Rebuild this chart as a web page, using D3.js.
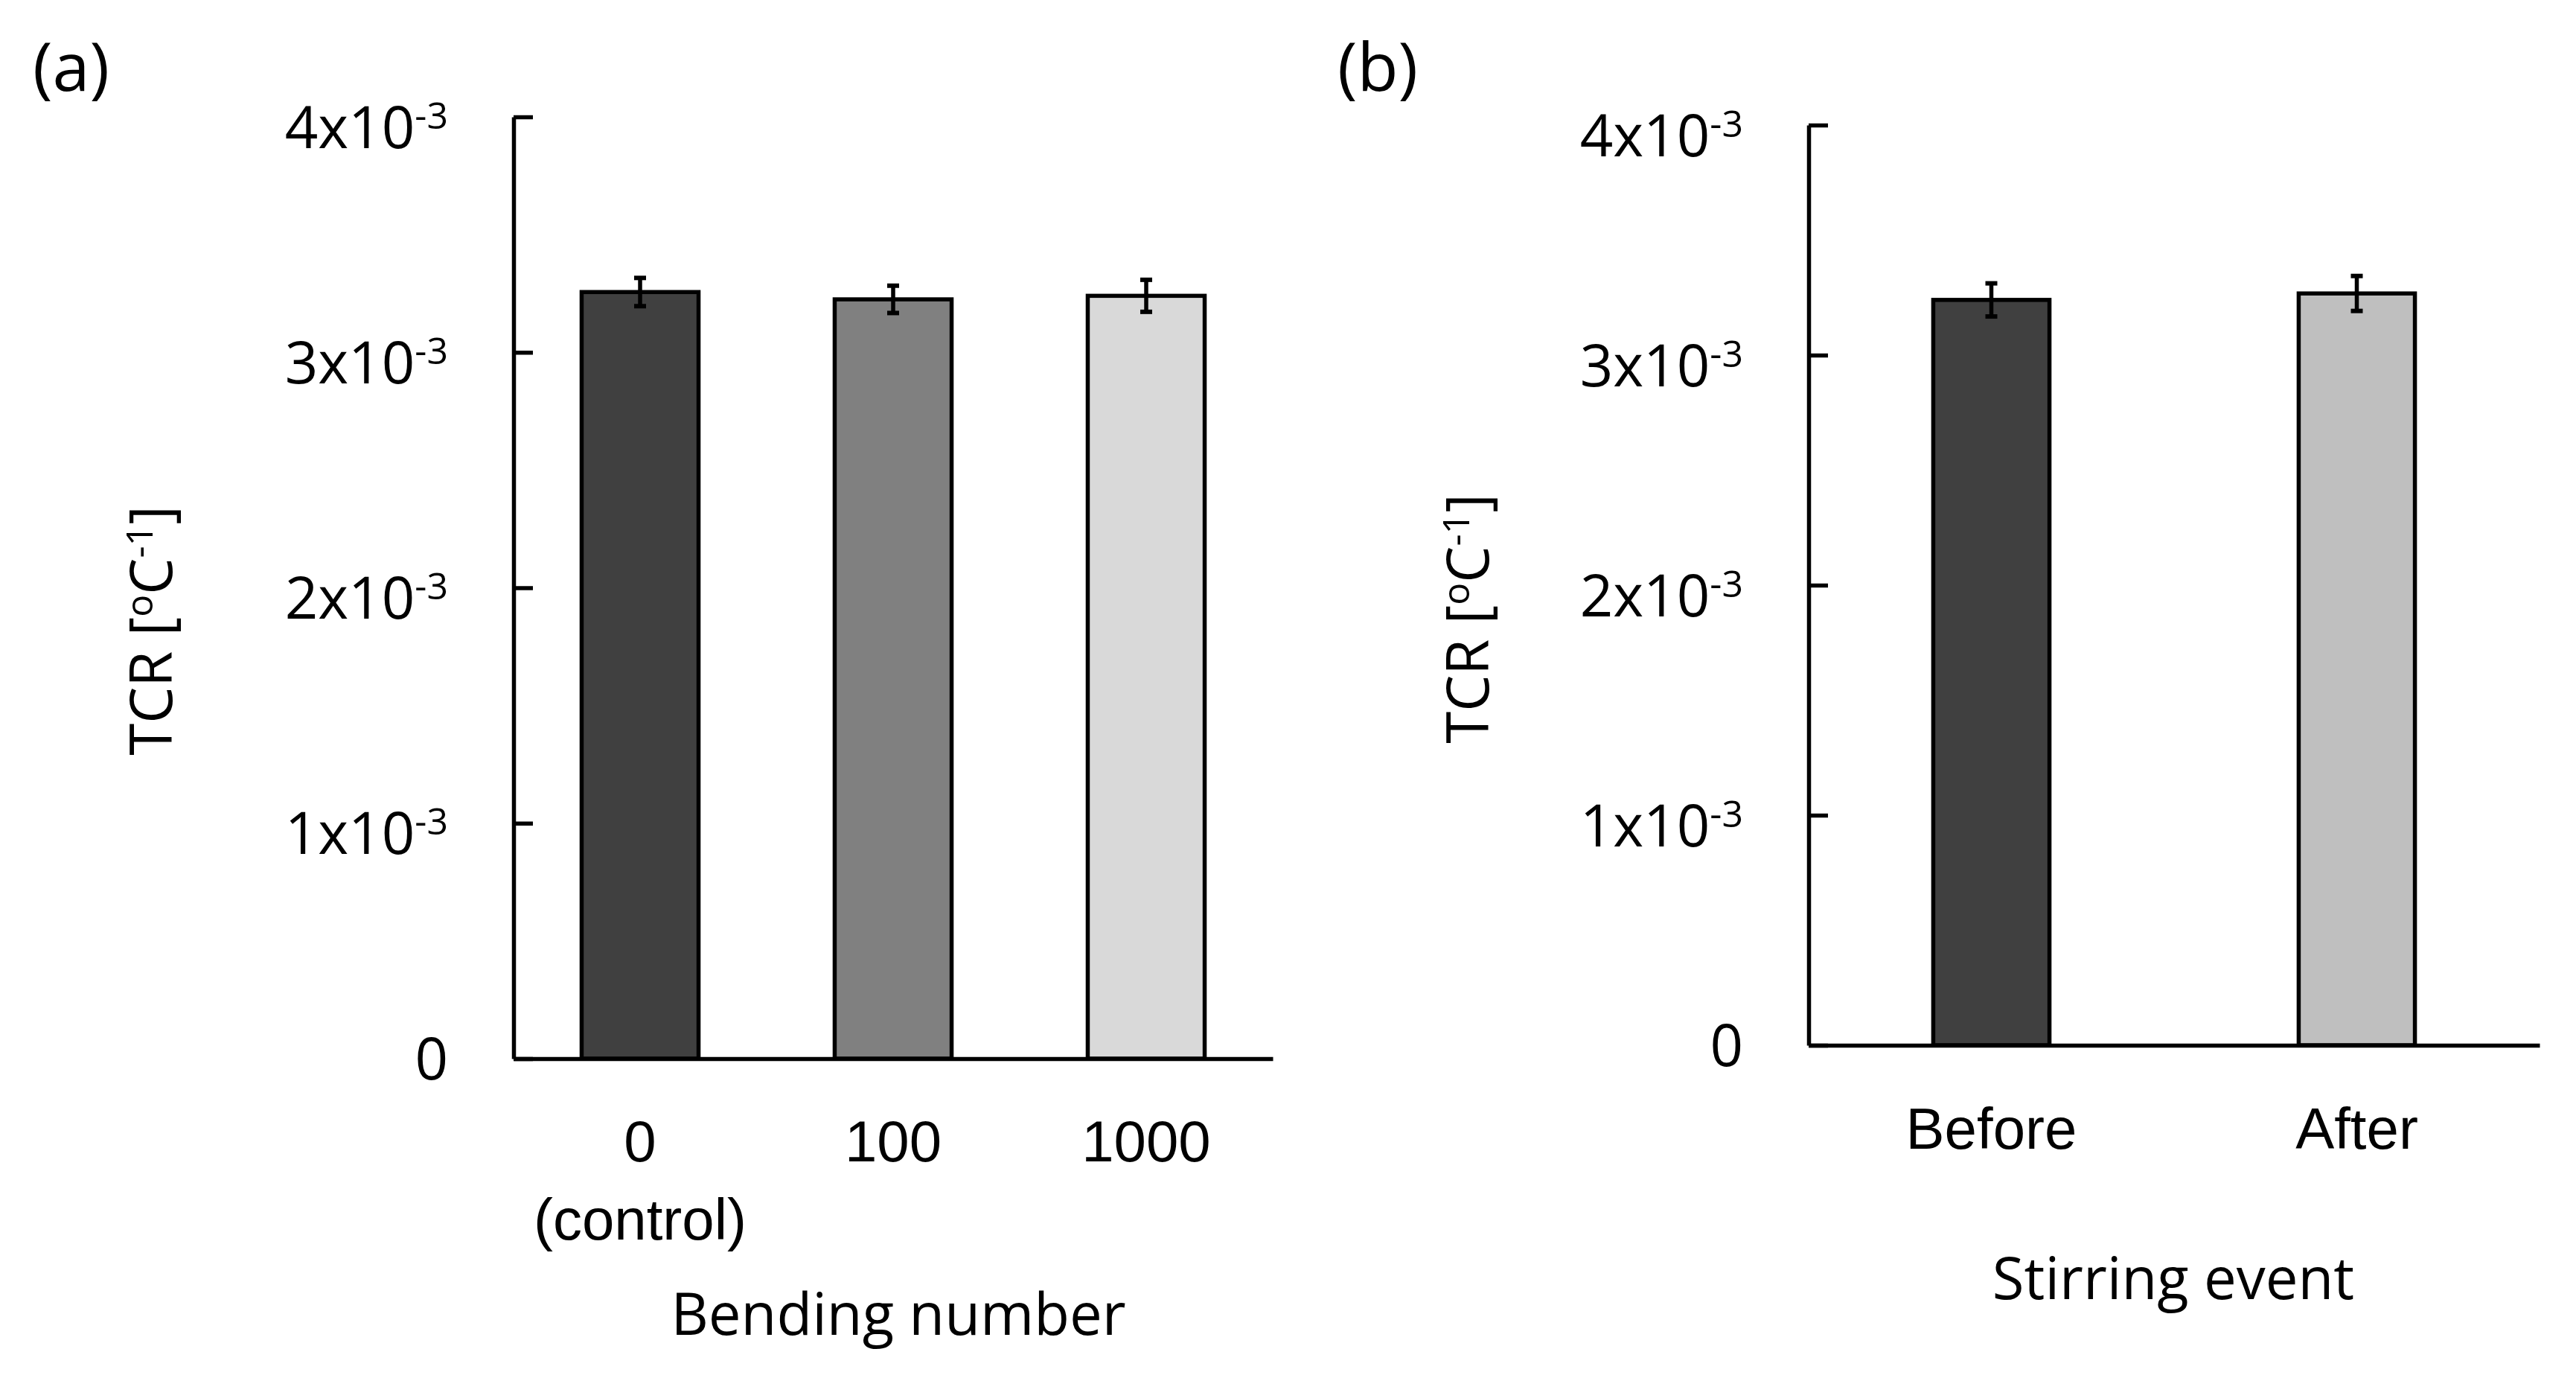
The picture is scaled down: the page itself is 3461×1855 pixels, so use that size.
<!DOCTYPE html>
<html>
<head>
<meta charset="utf-8">
<script src="https://cdn.jsdelivr.net/npm/d3@7"></script>
<style>
  body { margin: 0; background: #fff; }
  svg { display: block; font-family: "Open Sans", sans-serif; }
</style>
</head>
<body>
<div id="chart"></div>
<script>
// (a) TCR against bending number
const bendingCategories = ["0", "100", "1000"];
const bendingSubLabels = ["(control)", "", ""];
const bendingTCR = [3.256e-3, 3.225e-3, 3.240e-3];
const bendingErr = [0.060e-3, 0.058e-3, 0.068e-3];
const bendingFills = ["#404040", "#808080", "#d9d9d9"];

// (b) TCR before / after stirring
const stirringCategories = ["Before", "After"];
const stirringSubLabels = ["", ""];
const stirringTCR = [3.240e-3, 3.268e-3];
const stirringErr = [0.072e-3, 0.076e-3];
const stirringFills = ["#404040", "#bfbfbf"];

// shared y axis
const yTicks = [0, 1e-3, 2e-3, 3e-3, 4e-3];
const yTickBase = ["0", "1x10", "2x10", "3x10", "4x10"];
const yTickExp = ["", "-3", "-3", "-3", "-3"];

const W = 3461, H = 1855;
const FS = 78, SUP = 50, SUPSHIFT = 26;

const svg = d3.select("#chart")
    .append("svg")
    .attr("width", W)
    .attr("height", H)
    .attr("viewBox", `0 0 ${W} ${H}`);

svg.append("rect").attr("width", W).attr("height", H).attr("fill", "white");

function drawPanel(p)
{
    const g = svg.append("g");

    const x = d3.scaleBand()
        .domain(p.categories)
        .range([p.left, p.right])
        .paddingInner(p.pad)
        .paddingOuter(p.pad / 2);

    const y = d3.scaleLinear()
        .domain([0, 4e-3])
        .range([p.bottom, p.top]);

    // y axis, ticks pointing inward
    const yAxis = g.append("g")
        .attr("transform", `translate(${p.left},0)`)
        .call(d3.axisLeft(y)
            .tickValues(yTicks)
            .tickSize(-26)
            .tickSizeOuter(0)
            .tickPadding(88)
            .tickFormat(() => ""));

    yAxis.select(".domain").attr("stroke-width", 5.5);
    yAxis.selectAll(".tick line").attr("stroke-width", 5.5);

    yAxis.selectAll(".tick text")
        .attr("dy", null)
        .attr("y", (d, i) => yTickExp[i] ? 41 : 27)
        .attr("font-size", FS)
        .attr("font-family", "Open Sans")
        .attr("fill", "black")
        .each(function(d, i) {
            const t = d3.select(this);
            t.append("tspan").text(yTickBase[i]);
            if (yTickExp[i]) {
                t.append("tspan")
                    .attr("font-size", SUP)
                    .attr("dy", -SUPSHIFT)
                    .text(yTickExp[i]);
            }
        });

    // bars
    g.selectAll("rect.bar")
        .data(p.values)
        .join("rect")
        .attr("class", "bar")
        .attr("x", (d, i) => x(p.categories[i]))
        .attr("y", d => y(d))
        .attr("width", x.bandwidth())
        .attr("height", d => y(0) - y(d))
        .attr("fill", (d, i) => p.fills[i])
        .attr("stroke", "black")
        .attr("stroke-width", 5.5);

    // error bars
    const errG = g.append("g").attr("stroke", "black");
    p.values.forEach((v, i) => {
        const cx = x(p.categories[i]) + x.bandwidth() / 2;
        const hi = y(v + p.errors[i]);
        const lo = y(v - p.errors[i]);
        errG.append("line")
            .attr("x1", cx).attr("x2", cx)
            .attr("y1", hi).attr("y2", lo)
            .attr("stroke-width", 5.5);
        [hi, lo].forEach(yy => {
            errG.append("line")
                .attr("x1", cx - 8).attr("x2", cx + 8)
                .attr("y1", yy).attr("y2", yy)
                .attr("stroke-width", 6);
        });
    });

    // x axis on top of bars
    const xAxis = g.append("g")
        .attr("transform", `translate(0,${p.bottom})`)
        .call(d3.axisBottom(x)
            .tickSize(0)
            .tickSizeOuter(0)
            .tickFormat(() => ""));

    xAxis.select(".domain").attr("stroke-width", 5.5);

    xAxis.selectAll(".tick text").remove();
    xAxis.selectAll(".tick").each(function(d, i) {
        const t = d3.select(this);
        t.append("text")
            .attr("y", p.tickBaseline - p.bottom)
            .attr("text-anchor", "middle")
            .attr("font-size", FS)
            .attr("fill", "black")
            .text(d);
        if (p.subLabels[i]) {
            t.append("text")
                .attr("y", p.subBaseline - p.bottom)
                .attr("text-anchor", "middle")
                .attr("font-size", FS)
                .attr("fill", "black")
                .text(p.subLabels[i]);
        }
    });

    // x title
    g.append("text")
        .attr("x", p.xTitleX)
        .attr("y", p.xTitleBaseline)
        .attr("text-anchor", "middle")
        .attr("font-size", FS)
        .text(p.xTitle);

    // y title: TCR [ºC-1]
    const yt = g.append("text")
        .attr("transform", `translate(${p.yTitleX},${p.yTitleY}) rotate(-90)`)
        .attr("text-anchor", "middle")
        .attr("font-size", FS);
    yt.append("tspan").text("TCR [");
    yt.append("tspan").attr("font-size", SUP).attr("dy", -SUPSHIFT).text("o");
    yt.append("tspan").attr("dy", SUPSHIFT).text("C");
    yt.append("tspan").attr("font-size", SUP).attr("dy", -SUPSHIFT).text("-1");
    yt.append("tspan").attr("dy", SUPSHIFT).text("]");

    // panel letter
    g.append("text")
        .attr("x", p.letterX)
        .attr("y", 122)
        .attr("font-size", 90)
        .text(p.letter);
}

drawPanel({
    categories: bendingCategories,
    subLabels: bendingSubLabels,
    values: bendingTCR,
    errors: bendingErr,
    fills: bendingFills,
    left: 690, right: 1710, top: 157, bottom: 1422,
    pad: 0.538,
    tickBaseline: 1560, subBaseline: 1665,
    xTitle: "Bending number", xTitleX: 1207, xTitleBaseline: 1793,
    yTitleX: 231, yTitleY: 847,
    letter: "(a)", letterX: 44
});

drawPanel({
    categories: stirringCategories,
    subLabels: stirringSubLabels,
    values: stirringTCR,
    errors: stirringErr,
    fills: stirringFills,
    left: 2430, right: 3412, top: 168, bottom: 1404,
    pad: 0.682,
    tickBaseline: 1543, subBaseline: 0,
    xTitle: "Stirring event", xTitleX: 2920, xTitleBaseline: 1745,
    yTitleX: 2000, yTitleY: 831,
    letter: "(b)", letterX: 1797
});
</script>
</body>
</html>
